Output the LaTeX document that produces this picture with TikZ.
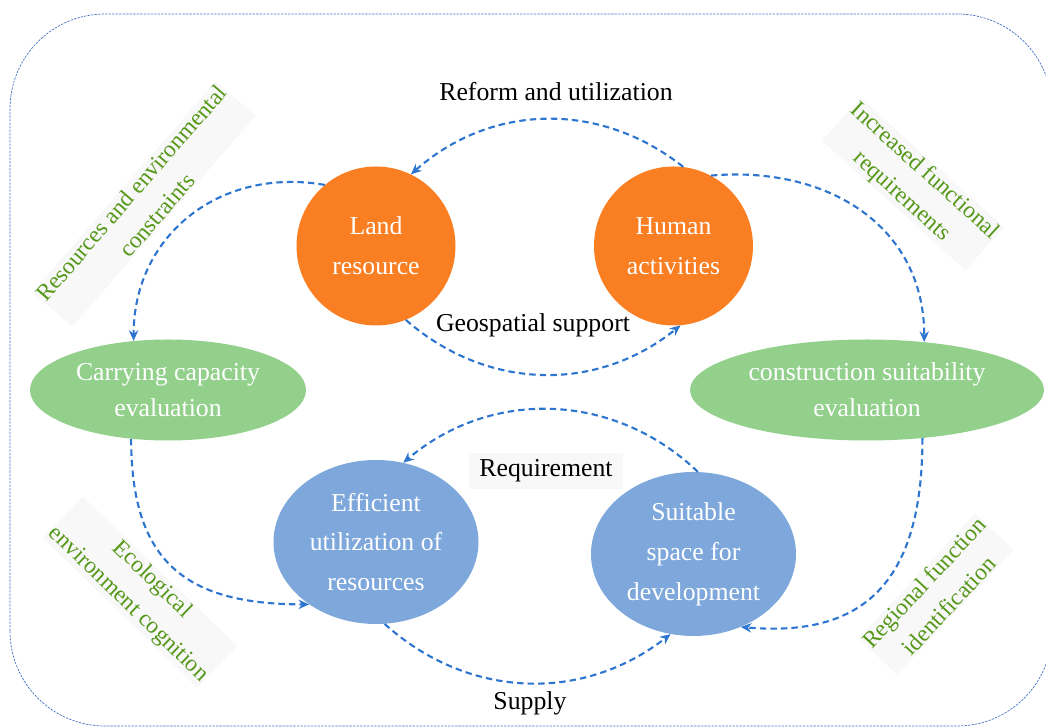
\documentclass[tikz,border=0pt]{standalone}
\usepackage{fontspec}
\setmainfont{Liberation Serif}
\RequirePackage{xcolor}
\usetikzlibrary{positioning}
\usetikzlibrary{shapes.geometric,arrows.meta}

\definecolor{landorange}{RGB}{250,126,34}
\definecolor{evalgreen}{RGB}{146,208,140}
\definecolor{useblue}{RGB}{126,168,220}
\definecolor{flowblue}{RGB}{46,117,207}
\definecolor{labelgreen}{RGB}{86,152,26}
\definecolor{frameblue}{RGB}{68,114,196}
\definecolor{boxgray}{RGB}{248,248,248}

\begin{document}
\begin{tikzpicture}[x=0.03cm,y=0.03cm,
  every node/.style={font=\fontsize{22}{34}\selectfont, align=center},
  orange node/.style={ellipse, fill=landorange, text=white, inner sep=0pt, minimum width=4.77cm, minimum height=4.77cm},
  green node/.style={ellipse, fill=evalgreen, text=white, inner sep=0pt, minimum height=3.03cm, font=\fontsize{22}{31}\selectfont},
  blue node/.style={ellipse, fill=useblue, text=white, inner sep=0pt, minimum width=6.15cm, minimum height=4.92cm},
  side label/.style={text=labelgreen, fill=boxgray, inner sep=1pt, font=\fontsize{20}{29}\selectfont},
  flow/.style={draw=flowblue, line width=1.8pt, dash pattern=on 5.5pt off 3.5pt, -{Stealth[length=9pt,width=8pt]}},
  frame/.style={draw=frameblue, line width=0.6pt, dash pattern=on 2pt off 1pt, rounded corners=2.85cm}]

  \useasboundingbox (0,0) rectangle (1046,727);
  \draw[frame] (10,1) rectangle (1052,713);

  \node[orange node] (land) at (376,481) {Land\\resource};
  \node[orange node, right=4.14cm of land] (human) {Human\\activities};

  \node[green node, minimum width=8.28cm] (carry) at (168,337) {Carrying capacity\\evaluation};
  \node[green node, minimum width=10.62cm] (constr) at (867,337) {construction suitability\\evaluation};

  \node[blue node, below=4.02cm of land] (effic) {Efficient\\utilization of\\resources};
  \node[blue node, right=3.36cm of effic, yshift=-0.36cm] (suit) {Suitable\\space for\\development};

  \node (reform) at (556,635) {Reform and utilization};
  \node (geo) at (533,402) {Geospatial support};
  \node[fill=boxgray, minimum width=4.6cm, minimum height=1.08cm] (req) at (546,256) {Requirement};
  \node (supply) at (530,24) {Supply};

  \node[side label, rotate=49] (resenv) at (144,523) {Resources and environmental\\constraints};
  \node[side label, rotate=-42] (incfun) at (913,543) {Increased functional\\requirements};
  \node[side label, rotate=-44] (ecoenv) at (140,135) {Ecological\\environment cognition};
  \node[side label, rotate=47] (regfun) at (936,133) {Regional function\\identification};

  \draw[flow] (human.83) to[bend right=40] (land.64);
  \draw[flow] (land.-68) to[bend right=40] (human.-85);
  \draw[flow] (suit.87) to[bend right=42] (effic.71);
  \draw[flow] (effic.-84) to[bend right=40] (suit.-106);

  \draw[flow] (land.130) to[out=170, in=90, looseness=1.1] (carry.125);
  \draw[flow] (human.62) to[out=5, in=90, looseness=1.1] (constr.40);
  \draw[flow] (carry.-127) to[out=-90, in=180, looseness=1.3] (effic.-137);
  \draw[flow] (constr.-41) to[out=-90, in=-5, looseness=1.3] (suit.-57);

\end{tikzpicture}
\end{document}
